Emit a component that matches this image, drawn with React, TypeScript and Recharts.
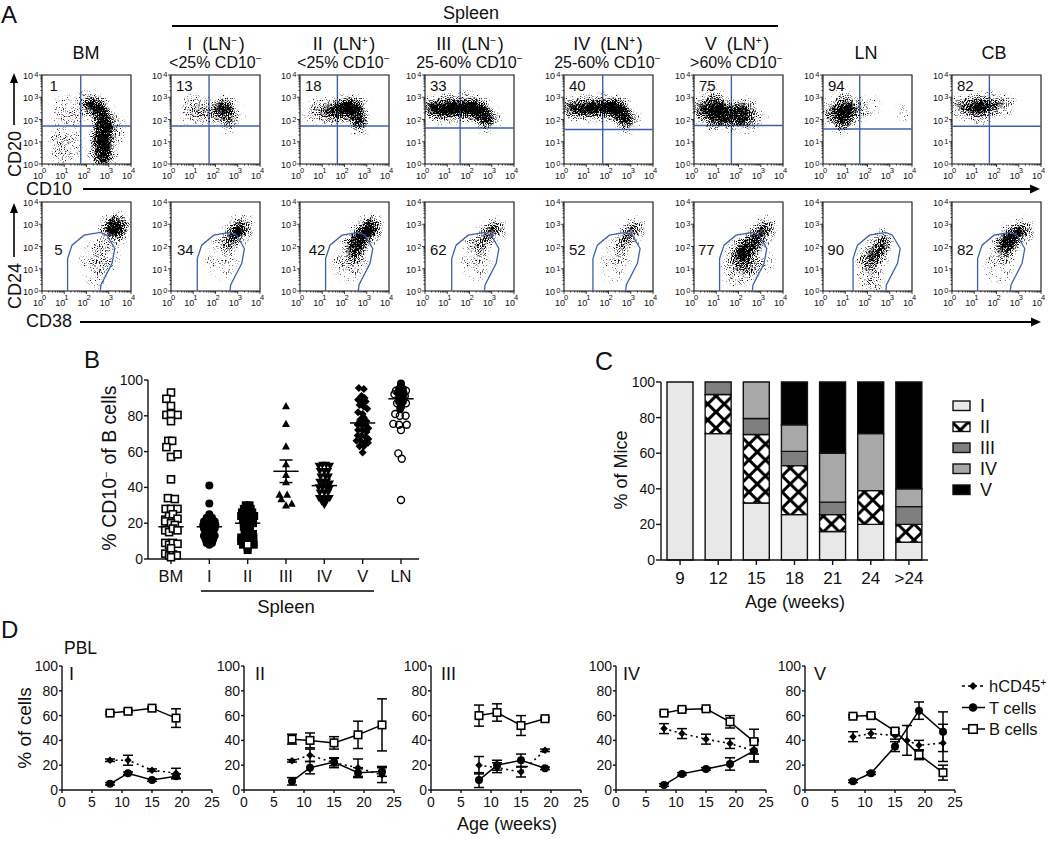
import React from "react";
import {
  BarChart, Bar, ScatterChart, Scatter, LineChart, Line, XAxis, YAxis, ReferenceLine, ReferenceArea, ErrorBar, Legend,
} from "recharts";

const FONT = '"Liberation Sans", Arial, sans-serif';
const INK = "#111";
const BLUE = "#3f5fae";

/* ---------- Panel A: flow plots. Cloud = [log10 x, log10 y, spread in decades, density] ---------- */
type Cloud = number[][];
const cd20BM: Cloud = [[2.1,2.75,.3,.5],[2.45,2.55,.3,.8],[2.7,2.2,.3,.85],[2.8,1.8,.3,.9],[2.75,1.4,.33,.95],[2.7,1,.33,.95],[2.7,.6,.33,.85],[2.75,.25,.3,.7],[1,.8,.6,.12],[1.2,2.3,.6,.1],[3.1,1.5,.5,.15]];
const cd20I: Cloud = [[2.4,2.5,.3,.85],[2.6,2,.3,.4],[2,2.3,.35,.3],[1,2.45,.5,.12],[1.3,2.4,.4,.2],[2.9,2.2,.2,.15]];
const cd20II: Cloud = [[2.15,2.55,.33,.95],[1.8,2.4,.33,.8],[2.5,2.4,.3,.8],[2.6,2,.25,.85],[2.75,1.8,.2,.6],[1.3,2.35,.35,.5],[.7,2.4,.35,.2],[2.6,2.7,.2,.3]];
const cd20III: Cloud = [[.35,2.5,.3,.7],[.8,2.45,.33,.9],[1.3,2.5,.33,.9],[1.8,2.5,.33,.95],[2.3,2.45,.33,.95],[2.65,2.2,.3,.95],[2.85,1.9,.2,.8],[1,2.85,.2,.25],[2,2.9,.2,.25],[3.1,2.1,.2,.12]];
const cd20IV: Cloud = [[.3,2.5,.28,.6],[.8,2.5,.3,.85],[1.3,2.5,.3,.9],[1.8,2.55,.3,.95],[2.3,2.5,.33,1],[2.6,2.25,.3,.95],[2.85,1.9,.22,.85],[3.1,2.1,.2,.1]];
const cd20V: Cloud = [[.4,2.4,.35,.55],[1,2.5,.4,.7],[1,2.1,.35,.7],[1.6,2.2,.4,.75],[2.2,2.3,.4,.65],[2.2,1.95,.25,.6],[.8,2.9,.3,.3],[2.8,2,.3,.2]];
const cd20LN: Cloud = [[.4,2.3,.35,.4],[1,2.4,.42,.7],[.9,2,.35,.65],[.9,2.85,.3,.2],[1.6,2.5,.3,.25],[2.1,2.6,.25,.12],[3.7,2.3,.3,.04]];
const cd20CB: Cloud = [[.4,2.6,.3,.4],[.9,2.55,.3,.65],[1.3,2.6,.32,.75],[1.8,2.65,.3,.5],[2.3,2.7,.3,.25],[1.2,2.2,.3,.2]];
const cd24BM: Cloud = [[3.3,2.85,.3,1],[3.3,2.85,.45,.6],[2.6,1.5,.65,.12],[2.5,.8,.5,.05],[3,2,.3,.15]];
const cd24I: Cloud = [[3.05,2.75,.28,.9],[2.75,2.35,.3,.45],[2.5,2.1,.4,.2],[3.2,3,.3,.2],[2.3,1.3,.6,.05]];
const cd24II: Cloud = [[3.15,2.85,.28,1],[2.9,2.55,.3,.95],[2.55,2.2,.33,.85],[2.5,1.75,.35,.55],[2.2,1.2,.5,.15],[3.2,3.1,.2,.3]];
const cd24III: Cloud = [[3.1,2.8,.22,.8],[2.75,2.4,.28,.4],[2.4,2,.4,.25],[2.3,1.2,.5,.08]];
const cd24IV: Cloud = [[3.15,2.85,.2,.65],[2.95,2.5,.2,.55],[2.7,2.2,.3,.35],[2.4,1.6,.45,.12],[2.2,.9,.4,.04]];
const cd24V: Cloud = [[3.2,2.85,.22,.8],[2.9,2.4,.28,.7],[2.5,2.05,.38,.65],[2.15,1.6,.42,.6],[2.4,1.1,.4,.25],[1.9,.9,.5,.15],[2.9,1.3,.5,.1]];
const cd24LN: Cloud = [[2.7,2.2,.3,.5],[2.5,1.8,.32,.55],[2.15,1.4,.35,.5],[2.1,.8,.35,.2],[2.2,.3,.35,.1]];
const cd24CB: Cloud = [[2.5,2.2,.35,.95],[3.1,2.7,.3,.55],[2.3,1.7,.35,.3],[2.8,2.5,.3,.55],[2.1,1,.5,.06]];

const flowLeft = [41.5, 171, 300, 425, 564, 694, 823, 952];
const cloudsTop = [cd20BM, cd20I, cd20II, cd20III, cd20IV, cd20V, cd20LN, cd20CB];
const cloudsBottom = [cd24BM, cd24I, cd24II, cd24III, cd24IV, cd24V, cd24LN, cd24CB];
const quadX = [1.74, 1.71, 1.68, 1.58, 1.74, 1.68, 1.65, 1.68];
const quadY = [1.71, 1.71, 1.71, 1.62, 1.55, 1.73, 1.57, 1.7];
const pctTop = ["1", "13", "18", "33", "40", "75", "94", "82"];
const pctBottom = ["5", "34", "42", "62", "52", "77", "90", "82"];
const pctBottomDx = [12.7, 6, 8.7, 5, 5, 4, 4.3, 5];
const gateShape = [[0,0],[0,1.46],[.2,2.06],[.74,2.51],[1.47,2.63],[1.77,2.51],[2.12,1.91],[2,1.24],[1.5,.27],[1.47,0]];
const gateLeft = [1.15, 1.18, 1.15, 1.2, 1.3, 1.15, 1.35, 1.15];

const logTicks: number[] = [];
for (let d = 0; d < 4; d++) for (let k = 1; k < 10; k++) logTicks.push(d + Math.log10(k));
logTicks.push(4);

/* ---------- Panel B: [offset from category centre, % CD10-] ---------- */
const bCategories = ["BM", "I", "II", "III", "IV", "V", "LN"];
const bmPts = [[0,93],[-.12,89.5],[0,85.5],[-.12,80.5],[.17,80.5],[0,81],[0,77],[-.07,66],[.03,66],[-.12,62.5],[0,57],[.17,58.5],[0,44.5],[-.08,34],[.1,33.5],[-.14,28],[0,28],[.17,28],[-.15,22],[-.05,24],[.05,25],[.17,22.5],[-.15,21],[0,20],[.1,19],[-.15,16],[-.05,15],[.05,17],[.17,16],[-.15,9],[-.05,8],[.05,9],[.17,8.5],[-.15,3],[-.05,2],[.05,2.5],[.15,2],[0,1],[0,6]];
const spleenIPts = [[0,41],[0,31],[0,25],[-.07,23],[.07,23],[-.14,21],[0,21],[.14,21],[-.16,19],[-.05,19],[.05,19],[.16,19],[-.14,17],[0,17],[.14,17],[-.1,15],[0,15],[.1,15],[-.14,13],[-.03,13],[.06,13],[.14,13],[-.1,11],[0,11],[.1,11],[-.07,9],[.07,9],[0,8]];
const spleenIIPts = [[-.05,30],[.05,30],[-.1,28],[.08,28],[-.15,26],[0,26],[.12,26],[-.17,24],[-.05,24],[.06,24],[.17,24],[-.12,22],[0,22],[.12,22],[-.1,20],[.02,20],[.14,20],[-.1,18],[.03,18],[-.05,16],[.06,16],[-.08,14],[.03,14],[.14,14],[-.17,12],[-.06,12],[.05,12],[.15,12],[-.17,10],[-.07,10],[.16,8],[-.12,8],[0,6.5],[0,5]];
const spleenIIOpen = [[0,8]];
const spleenIIIPts = [[0,85.5],[0,75.5],[0,63],[0,53],[0,47],[0,43],[-.17,36],[.03,36],[-.12,33.5],[.15,31],[0,30]];
const spleenIVPts = [[-.15,52],[-.05,52.5],[.05,52.5],[.15,52],[-.12,49],[0,49],[.1,49],[-.1,46],[.03,46],[.12,46],[-.13,43],[-.03,43],[.07,43],[.15,42],[-.15,40],[-.05,40],[.05,40],[.14,39],[-.12,37],[0,37],[.1,37],[-.14,34],[-.04,34],[.06,34],[.14,34],[-.07,32],[.05,32],[0,30]];
const spleenVPts = [[-.1,95.5],[.03,95],[-.03,91],[.05,90],[-.12,89],[0,88],[.08,88],[-.08,86],[.03,85],[.12,84],[-.12,82],[0,81],[.03,79],[-.06,78],[.1,77],[-.13,75],[-.03,75],[.07,75],[.15,73],[-.12,72],[0,72],[.1,71],[-.13,69],[-.03,69],[.08,68],[.15,67],[-.16,66],[-.06,66],[.05,65],[.14,65],[-.08,63],[.03,63],[0,59.5]];
const lnOpen = [[-.13,94],[.13,94],[-.17,92],[.1,91],[-.1,87],[.13,87],[0,85],[-.15,81],[-.03,80],[.12,80],[-.2,75.5],[-.05,75],[.15,75],[0,72],[-.07,59],[.02,56],[0,33]];
const lnFilled = [[0,98],[0,96.5],[-.05,95],[.05,95],[-.08,93],[.07,92.5],[-.03,91],[.03,90],[-.05,88],[.05,88],[0,86],[-.02,84]];
const bMeans = [18, 18, 20, 49, 41, 76, 89.5];
const bSem = [1, 1, 1, 6.3, 1, 1, 1];

/* ---------- Panel C ---------- */
const cAges = ["9", "12", "15", "18", "21", "24", ">24"];
const cI = [100, 71, 32, 25.5, 16, 20, 10];
const cII = [0, 22, 38.5, 27.5, 9.5, 19, 10];
const cIII = [0, 7, 9, 8, 7, 0, 10];
const cIV = [0, 0, 20.5, 15, 27.5, 32, 10];
const cV = [0, 0, 0, 24, 40, 29, 60];
const cNames = ["I", "II", "III", "IV", "V"];
const cFills = ["#e8e8e8", "url(#hatch)", "#7f7f7f", "#a8a8a8", "#000"];
const cTable = cAges.map((age, i) => ({ age, I: cI[i], II: cII[i], III: cIII[i], IV: cIV[i], V: cV[i] }));

/* ---------- Panel D ---------- */
const dWeeks = [8, 11, 15, 19, 23];
const dWeeksV = [8, 11, 15, 17, 19, 23];
const n = null;
const B1 = [62, 63.5, 66, 58, n], B1e = [1, 1, 1, 7.5, n];
const H1 = [24, 24, 16, 13.5, n], H1e = [1, 4, 1, 4, n];
const T1 = [5, 13.5, 8, 11, n], T1e = [1, 1, 1, 2, n];
const B2 = [41, 40, 38, 44.5, 52.5], B2e = [4, 6, 5, 11, 21];
const H2 = [23.5, 28, 22, 18, 12], H2e = [1, 5, 4, 7, 6];
const T2 = [7, 18, 22.5, 14, 15], T2e = [3, 5, 3, 4, 4];
const B3 = [60, 62.5, 52, 57.5, n], B3e = [8.5, 7, 8, 1, n];
const H3 = [20, 18, 14.5, 32, n], H3e = [7, 4, 4, 1, n];
const T3 = [8, 20, 24, 17.5, n], T3e = [6, 4, 5, 1, n];
const B4 = [62, 65, 65.5, 55, 39], B4e = [1, 1, 1, 5, 10];
const H4 = [49.5, 45.5, 41, 37.5, 31.5], H4e = [4, 4, 4, 4, 9];
const T4 = [4, 13, 17, 21, 31.5], T4e = [1, 1, 1, 5, 8];
const B5 = [59.5, 60, 47.5, n, 28.5, 14], B5e = [1, 1, 2, n, 4, 6];
const H5 = [43, 45.5, 44, 40, 36, 38], H5e = [4, 3.5, 3, 12, 4, 15];
const T5 = [7, 13.5, 35, n, 64, 47], T5e = [1, 1, 4, n, 7, 16];
const dPanels = [
  { left: 61.7, name: "I", nameX: 69, w: dWeeks, B: B1, Be: B1e, H: H1, He: H1e, T: T1, Te: T1e },
  { left: 244.3, name: "II", nameX: 255, w: dWeeks, B: B2, Be: B2e, H: H2, He: H2e, T: T2, Te: T2e },
  { left: 431, name: "III", nameX: 441, w: dWeeks, B: B3, Be: B3e, H: H3, He: H3e, T: T3, Te: T3e },
  { left: 615.5, name: "IV", nameX: 623, w: dWeeks, B: B4, Be: B4e, H: H4, He: H4e, T: T4, Te: T4e },
  { left: 805, name: "V", nameX: 814, w: dWeeksV, B: B5, Be: B5e, H: H5, He: H5e, T: T5, Te: T5e },
];

/* ---------- shared drawing ---------- */
const Marker = ({ cx, cy, kind, size = 8, fill }: any) => {
  if (cx == null || cy == null) return null;
  const h = size / 2;
  const f = fill ?? (kind === "square" || kind === "ring" ? "#fff" : "#000");
  const sw = 1.6;
  if (kind === "square") return <rect x={cx - h} y={cy - h} width={size} height={size} fill={f} stroke="#000" strokeWidth={sw} />;
  if (kind === "solidsquare") return <rect x={cx - h} y={cy - h} width={size} height={size} fill="#000" />;
  if (kind === "circle") return <circle cx={cx} cy={cy} r={h} fill="#000" />;
  if (kind === "ring") return <circle cx={cx} cy={cy} r={h - 0.5} fill="none" stroke="#000" strokeWidth={1.4} />;
  if (kind === "diamond") return <path d={`M${cx} ${cy - h}L${cx + h} ${cy}L${cx} ${cy + h}L${cx - h} ${cy}Z`} fill="#000" />;
  if (kind === "tri") return <path d={`M${cx} ${cy - h}L${cx + h} ${cy + h * 0.8}L${cx - h} ${cy + h * 0.8}Z`} fill="#000" />;
  return <path d={`M${cx} ${cy + h}L${cx + h} ${cy - h * 0.8}L${cx - h} ${cy - h * 0.8}Z`} fill="#000" />;
};

const LogXTick = ({ x, y, payload }: any) => {
  const v = payload.value;
  const major = Math.abs(v - Math.round(v)) < 1e-6;
  return (
    <g fontFamily={FONT} fill={INK}>
      <line x1={x} x2={x} y1={y} y2={y + (major ? 3 : 1.6)} stroke={INK} strokeWidth={0.8} />
      {major && <text x={x - 4} y={y + 15} fontSize={9} textAnchor="middle">10</text>}
      {major && <text x={x + 2} y={y + 9} fontSize={7.5} textAnchor="middle">{Math.round(v)}</text>}
    </g>
  );
};
const LogYTick = ({ x, y, payload }: any) => {
  const v = payload.value;
  const major = Math.abs(v - Math.round(v)) < 1e-6;
  return (
    <g fontFamily={FONT} fill={INK}>
      <line x1={x} x2={x - (major ? 3 : 1.6)} y1={y} y2={y} stroke={INK} strokeWidth={0.8} />
      {major && <text x={x - 9} y={y + 4} fontSize={9} textAnchor="end">10</text>}
      {major && <text x={x - 3.5} y={y + 2} fontSize={7.5} textAnchor="end">{Math.round(v)}</text>}
    </g>
  );
};
const BlobShape = (p: any) => <circle cx={p.cx} cy={p.cy} r={p.payload.s * 22.2} fill="#000" fillOpacity={p.payload.d} />;
const NoShape = () => <g />;

const FlowPlot = ({ left, top, cloud, qx, qy, gate }: { left: number; top: number; cloud: Cloud; qx?: number; qy?: number; gate?: number }) => {
  const data = cloud.map(([x, y, s, d]) => ({ x, y, s, d }));
  const gateData = gate == null ? [] : gateShape.map(([x, y]) => ({ x: x + gate, y }));
  return (
    <div style={{ position: "absolute", left: left - 32, top: top - 8 }}>
      <ScatterChart width={129} height={113} margin={{ top: 8, right: 8, left: 0, bottom: 0 }}>
        <XAxis type="number" dataKey="x" domain={[0, 4]} ticks={logTicks} interval={0} allowDataOverflow axisLine={false} tickLine={false} tickSize={0} tickMargin={0} height={16} tick={<LogXTick />} />
        <YAxis type="number" dataKey="y" domain={[0, 4]} ticks={logTicks} interval={0} allowDataOverflow axisLine={false} tickLine={false} tickSize={0} tickMargin={0} width={32} tick={<LogYTick />} />
        <Scatter className="blobs" data={data} shape={BlobShape} isAnimationActive={false} />
        {qx != null && <ReferenceLine x={qx} stroke={BLUE} strokeWidth={1.4} />}
        {qy != null && <ReferenceLine y={qy} stroke={BLUE} strokeWidth={1.4} />}
        {gate != null && <Scatter data={gateData} line={{ stroke: BLUE, strokeWidth: 1.3 }} shape={NoShape} isAnimationActive={false} />}
        <ReferenceArea x1={0} x2={4} y1={0} y2={4} fill="none" stroke={INK} strokeWidth={1.1} fillOpacity={0} />
      </ScatterChart>
    </div>
  );
};

const axisTick = { fontFamily: FONT, fontSize: 14, fill: INK };
const axisLine = { stroke: INK, strokeWidth: 1.4 };
const tickLine = { stroke: INK, strokeWidth: 1.4 };

const toPts = (pts: number[][], cat: number) => pts.map(([dx, y]) => ({ x: cat + dx, y }));

const PanelB = () => {
  const series: [number[][], number, string][] = [
    [bmPts, 0, "square"], [spleenIPts, 1, "circle"], [spleenIIPts, 2, "solidsquare"], [spleenIIOpen, 2, "square"],
    [spleenIIIPts, 3, "tri"], [spleenIVPts, 4, "invtri"], [spleenVPts, 5, "diamond"], [lnOpen, 6, "ring"], [lnFilled, 6, "circle"],
  ];
  return (
    <div style={{ position: "absolute", left: 104, top: 370 }}>
      <ScatterChart width={319} height={219} margin={{ top: 10, right: 4, left: 0, bottom: 0 }}>
        <XAxis type="number" dataKey="x" domain={[-0.6, 6.47]} ticks={[0, 1, 2, 3, 4, 5, 6]} interval={0} allowDataOverflow
          tickFormatter={(v: number) => bCategories[v]} axisLine={axisLine} tickLine={tickLine} tickSize={5} tickMargin={6} height={30}
          tick={{ ...axisTick, fontSize: 16.5 }} />
        <YAxis type="number" dataKey="y" domain={[0, 100]} ticks={[0, 20, 40, 60, 80, 100]} interval={0} axisLine={axisLine} tickLine={tickLine} tickSize={4} tickMargin={1} width={44} tick={axisTick} />
        {series.map(([pts, cat, kind], i) => (
          <Scatter key={i} data={toPts(pts, cat)} isAnimationActive={false}
            shape={(p: any) => <Marker cx={p.cx} cy={p.cy} kind={kind} size={kind === "square" ? 7 : 8} />} />
        ))}
        {bMeans.map((m, i) => (
          <ReferenceLine key={i} segment={[{ x: i - 0.33, y: m }, { x: i + 0.33, y: m }]} stroke="#000" strokeWidth={1.5} />
        ))}
        {bSem.map((s, i) => (
          <ReferenceLine key={"u" + i} segment={[{ x: i - 0.17, y: bMeans[i] + s }, { x: i + 0.17, y: bMeans[i] + s }]} stroke="#000" strokeWidth={1.5} />
        ))}
        {bSem.map((s, i) => (
          <ReferenceLine key={"l" + i} segment={[{ x: i - 0.17, y: bMeans[i] - s }, { x: i + 0.17, y: bMeans[i] - s }]} stroke="#000" strokeWidth={1.5} />
        ))}
        {bSem.map((s, i) => (
          <ReferenceLine key={"v" + i} segment={[{ x: i, y: bMeans[i] - s }, { x: i, y: bMeans[i] + s }]} stroke="#000" strokeWidth={1.5} />
        ))}
      </ScatterChart>
    </div>
  );
};

const LegendC = () => (
  <svg width={70} height={110} style={{ display: "block", fontFamily: FONT, overflow: "visible" }}>
    {cNames.map((name, i) => (
      <g key={name}>
        <rect x={1} y={3 + i * 21} width={17} height={9.5} fill={cFills[i]} stroke="#111" strokeWidth={1.4} />
        <text x={28} y={14 + i * 21} fontSize={18} fill={INK}>{name}</text>
      </g>
    ))}
  </svg>
);

const PanelC = () => (
  <div style={{ position: "absolute", left: 616.7, top: 372 }}>
    <BarChart width={433} height={218} data={cTable} barCategoryGap="32%" margin={{ top: 10, right: 122, left: 0, bottom: 0 }}>
      <XAxis dataKey="age" axisLine={axisLine} tickLine={tickLine} tickSize={5} tickMargin={7} height={30} interval={0} tick={{ ...axisTick, fontSize: 17 }} />
      <YAxis type="number" domain={[0, 100]} ticks={[0, 20, 40, 60, 80, 100]} interval={0} axisLine={axisLine} tickLine={tickLine} tickSize={5} tickMargin={1} width={44} tick={axisTick} />
      {cNames.map((name, i) => (
        <Bar key={name} dataKey={name} stackId="s" barSize={26} fill={cFills[i]} stroke="#111" strokeWidth={1.4} isAnimationActive={false} />
      ))}
      <Legend layout="horizontal" align="center" verticalAlign="middle" content={<LegendC />}
        wrapperStyle={{ left: 335, top: 26, width: 70, height: 110 }} />
    </BarChart>
  </div>
);

const legendD: [string, string, React.ReactNode][] = [
  ["diamond", "3 3", "hCD45"],
  ["circle", "", "T cells"],
  ["square", "", "B cells"],
];
const LegendD = () => (
  <svg width={88} height={70} style={{ display: "block", fontFamily: FONT, overflow: "visible" }}>
    {legendD.map(([kind, dash, label], i) => (
      <g key={i}>
        <line x1={1} x2={24} y1={10 + i * 21.5} y2={10 + i * 21.5} stroke="#000" strokeWidth={1.5} strokeDasharray={dash || undefined} />
        <Marker cx={12} cy={10 + i * 21.5} kind={kind} size={kind === "diamond" ? 8 : 8.5} />
        <text x={28} y={16 + i * 21.5} fontSize={16.5} fill={INK}>
          {label}
          {i === 0 && <tspan fontSize={10} dy={-6}>+</tspan>}
        </text>
      </g>
    ))}
  </svg>
);

const PanelD = ({ p, legend }: { p: (typeof dPanels)[number]; legend?: boolean }) => {
  const table = p.w.map((x, i) => ({ x, B: p.B[i], Be: p.Be[i], H: p.H[i], He: p.He[i], T: p.T[i], Te: p.Te[i] }));
  const right = legend ? 1050 - p.left - 150 : 14;
  const dot = (kind: string, size: number) => (d: any) => <Marker key={d.index} cx={d.cx} cy={d.cy} kind={kind} size={size} />;
  const eb = (key: string) => <ErrorBar dataKey={key} direction="y" width={5} stroke="#000" strokeWidth={1.5} isAnimationActive={false} />;
  return (
    <div style={{ position: "absolute", left: p.left - 36, top: 657.7 }}>
      <LineChart width={36 + 150 + right} height={160} data={table} margin={{ top: 8, right, left: 0, bottom: 0 }}>
        <XAxis type="number" dataKey="x" domain={[0, 25]} ticks={[0, 5, 10, 15, 20, 25]} interval={0} axisLine={axisLine} tickLine={tickLine} tickSize={3} tickMargin={4} height={28} tick={axisTick} />
        <YAxis type="number" domain={[0, 100]} ticks={[0, 20, 40, 60, 80, 100]} interval={0} axisLine={axisLine} tickLine={tickLine} tickSize={3} tickMargin={1} width={36} tick={axisTick} />
        <Line dataKey="H" stroke="#000" strokeWidth={1.6} strokeDasharray="2 3.5" connectNulls dot={dot("diamond", 7.5)} isAnimationActive={false}>{eb("He")}</Line>
        <Line dataKey="T" stroke="#000" strokeWidth={1.5} connectNulls dot={dot("circle", 8)} isAnimationActive={false}>{eb("Te")}</Line>
        <Line dataKey="B" stroke="#000" strokeWidth={1.5} connectNulls dot={dot("square", 7.5)} isAnimationActive={false}>{eb("Be")}</Line>
        {legend && <Legend layout="horizontal" align="center" verticalAlign="middle" content={<LegendD />}
          wrapperStyle={{ left: 192, top: 18, width: 88, height: 70 }} />}
      </LineChart>
    </div>
  );
};

const Sup = ({ c, size = 10 }: { c: string; size?: number }) => (
  <>
    <tspan fontSize={size} dy={-6}>{c}</tspan>
    <tspan dy={6}>{"\u200a"}</tspan>
  </>
);

const spleenTitles = [
  { x: 216, a: "I  (LN", s: "\u2212", b: "<25% CD10" },
  { x: 344, a: "II  (LN", s: "+", b: "<25% CD10" },
  { x: 470, a: "III  (LN", s: "\u2212", b: "25-60% CD10" },
  { x: 608, a: "IV  (LN", s: "+", b: "25-60% CD10" },
  { x: 737, a: "V  (LN", s: "+", b: ">60% CD10" },
];
const singleTitles: [string, number][] = [["BM", 86], ["LN", 866], ["CB", 994]];

const Overlay = () => (
  <svg width={1050} height={846} style={{ position: "absolute", left: 0, top: 0, pointerEvents: "none", fontFamily: FONT }} fill={INK}>
    <text x={1} y={23} fontSize={24}>A</text>
    <text x={84} y={368} fontSize={24}>B</text>
    <text x={595} y={370} fontSize={25}>C</text>
    <text x={1} y={638} fontSize={24}>D</text>

    <text x={471} y={19} fontSize={18} textAnchor="middle">Spleen</text>
    <line x1={172} x2={778} y1={26} y2={26} stroke="#000" strokeWidth={2} />
    {spleenTitles.map((t) => (
      <g key={t.a}>
        <text x={t.x} y={50} fontSize={18} textAnchor="middle" xmlSpace="preserve">{t.a}<Sup c={t.s} />)</text>
        <text x={t.x} y={68} fontSize={16} textAnchor="middle">{t.b}<Sup c={"\u2212"} /></text>
      </g>
    ))}
    {singleTitles.map(([label, x]) => <text key={label} x={x} y={59} fontSize={18} textAnchor="middle">{label}</text>)}

    {flowLeft.map((x, i) => <text key={"t" + i} x={x + 5 + (i === 0 ? 3 : 0)} y={91} fontSize={15}>{pctTop[i]}</text>)}
    {flowLeft.map((x, i) => <text key={"b" + i} x={x + pctBottomDx[i]} y={255} fontSize={15}>{pctBottom[i]}</text>)}

    <text transform="translate(21,154) rotate(-90)" fontSize={18} textAnchor="middle">CD20</text>
    <line x1={14} x2={14} y1={125} y2={80} stroke="#000" strokeWidth={1.6} />
    <path d="M14 73L18 83L10 83Z" fill="#000" />
    <text x={26} y={195} fontSize={18}>CD10</text>
    <line x1={83} x2={1033} y1={189} y2={189} stroke="#000" strokeWidth={1.8} />
    <path d="M1040 189L1030 193.5L1030 184.5Z" fill="#000" />
    <text transform="translate(21,286) rotate(-90)" fontSize={18} textAnchor="middle">CD24</text>
    <line x1={14} x2={14} y1={257} y2={210} stroke="#000" strokeWidth={1.6} />
    <path d="M14 203L18 213L10 213Z" fill="#000" />
    <text x={26} y={327} fontSize={18}>CD38</text>
    <line x1={80} x2={1034} y1={322} y2={322} stroke="#000" strokeWidth={1.8} />
    <path d="M1041 322L1031 326.5L1031 317.5Z" fill="#000" />

    <text transform="translate(116,468) rotate(-90)" fontSize={19.5} textAnchor="middle">% CD10<Sup c={"\u2212"} size={11} /> of B cells</text>
    <line x1={201} x2={374} y1={591} y2={591} stroke="#000" strokeWidth={1.6} />
    <text x={286} y={613} fontSize={18.5} textAnchor="middle">Spleen</text>

    <text transform="translate(627,470) rotate(-90)" fontSize={18} textAnchor="middle">% of Mice</text>
    <text x={795} y={608} fontSize={18} textAnchor="middle">Age (weeks)</text>

    <text x={64} y={654} fontSize={17.5}>PBL</text>
    <text transform="translate(31,728) rotate(-90)" fontSize={19} textAnchor="middle">% of cells</text>
    <text x={507} y={830} fontSize={18} textAnchor="middle">Age (weeks)</text>
    {dPanels.map((p) => <text key={p.name} x={p.nameX} y={680} fontSize={18}>{p.name}</text>)}
  </svg>
);

export default function App() {
  return (
    <div style={{ position: "absolute", left: 0, top: 0, width: 1050, height: 846, background: "#fff", overflow: "hidden", fontFamily: FONT }}>
      <style>{`.blobs{filter:url(#speck)}`}</style>
      <svg width={0} height={0} style={{ position: "absolute" }}>
        <defs>
          <pattern id="hatch" width={16.5} height={16} patternUnits="userSpaceOnUse">
            <rect width={16.5} height={16} fill="#000" />
            <path d="M8.25 2L14.25 8L8.25 14L2.25 8Z M0 -6L6 0L0 6L-6 0Z M16.5 -6L22.5 0L16.5 6L10.5 0Z M0 10L6 16L0 22L-6 16Z M16.5 10L22.5 16L16.5 22L10.5 16Z" fill="#fff" />
          </pattern>
          <filter id="speck" x="-40%" y="-40%" width="180%" height="180%" colorInterpolationFilters="sRGB">
            <feGaussianBlur in="SourceGraphic" stdDeviation={4} result="soft" />
            <feComponentTransfer in="soft" result="lifted"><feFuncA type="gamma" amplitude={1} exponent={0.65} offset={0} /></feComponentTransfer>
            <feComponentTransfer in="soft" result="mask"><feFuncA type="linear" slope={60} intercept={0} /></feComponentTransfer>
            <feTurbulence type="fractalNoise" baseFrequency={0.95} numOctaves={2} seed={4} result="noise" />
            <feColorMatrix in="noise" type="matrix" values="0 0 0 0 0  0 0 0 0 0  0 0 0 0 0  0 0 0 1 0" result="grain" />
            <feComposite in="lifted" in2="grain" operator="arithmetic" k1={0} k2={1.5} k3={2.5} k4={-1.7} result="mix" />
            <feComponentTransfer in="mix" result="hard"><feFuncA type="linear" slope={2} intercept={0} /></feComponentTransfer>
            <feComposite in="hard" in2="mask" operator="in" result="kept" />
            <feGaussianBlur in="kept" stdDeviation={0.35} />
          </filter>
        </defs>
      </svg>

      {flowLeft.map((left, i) => <FlowPlot key={"a" + i} left={left} top={75} cloud={cloudsTop[i]} qx={quadX[i]} qy={quadY[i]} />)}
      {flowLeft.map((left, i) => <FlowPlot key={"c" + i} left={left} top={202} cloud={cloudsBottom[i]} gate={gateLeft[i]} />)}
      <PanelB />
      <PanelC />
      {dPanels.map((p, i) => <PanelD key={p.name} p={p} legend={i === 4} />)}
      <Overlay />
    </div>
  );
}
